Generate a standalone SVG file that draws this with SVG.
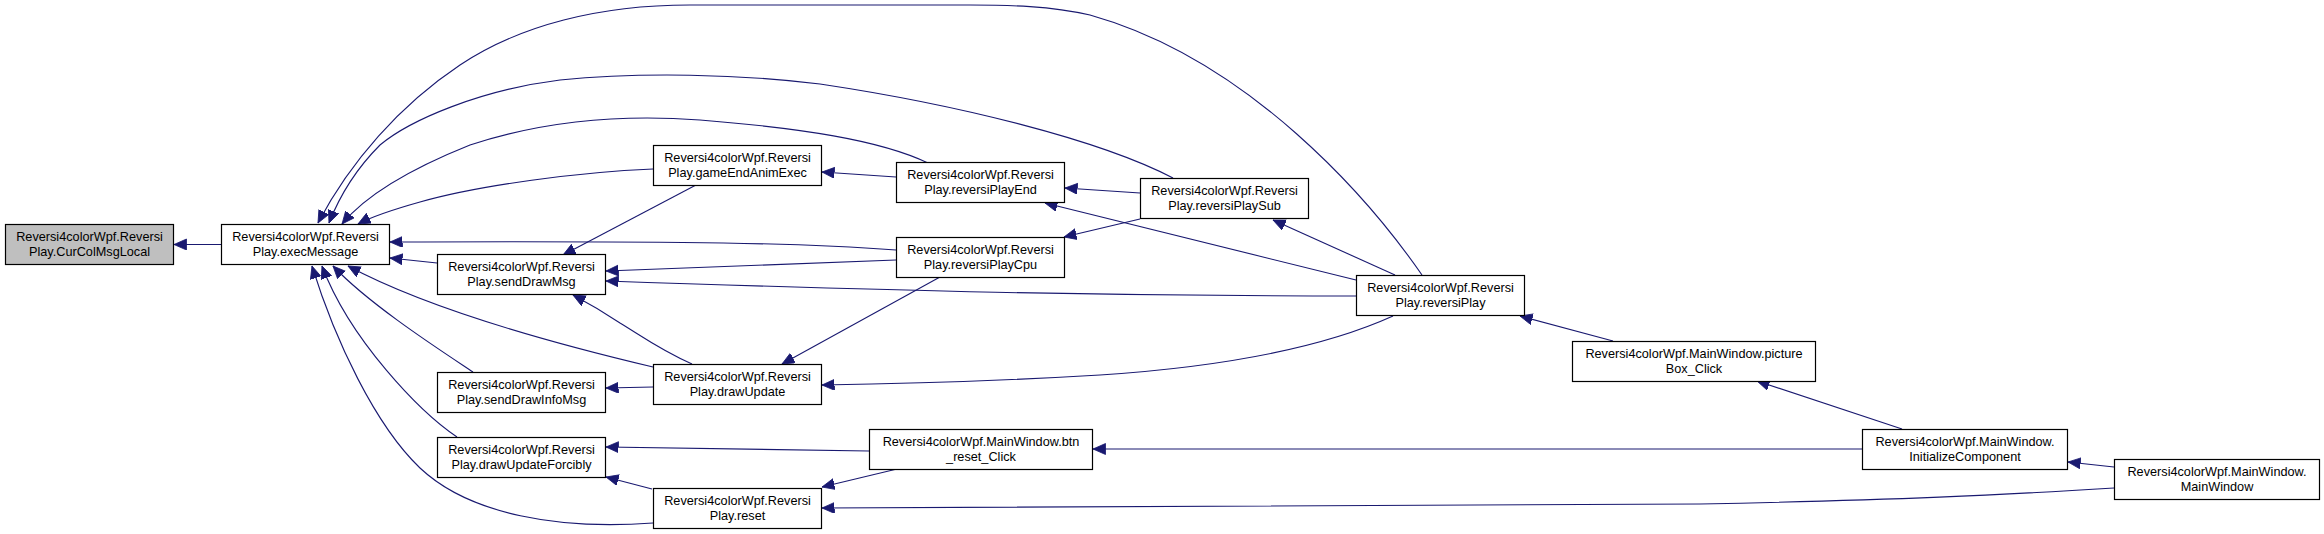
<svg xmlns="http://www.w3.org/2000/svg" width="2324" height="534" viewBox="0 0 2324 534">
<style>
.n rect{fill:#fff;stroke:#000;stroke-width:1.2}
.n text{font-family:"Liberation Sans",Arial,sans-serif;font-size:12.7px;fill:#000;text-anchor:middle}
#n0 rect{fill:#bfbfbf}
.e path{fill:none;stroke:#191970;stroke-width:1.1;marker-end:url(#ah)}
</style>
<defs>
<marker id="ah" markerUnits="userSpaceOnUse" markerWidth="14" markerHeight="12" viewBox="0 0 14 12" refX="12.5" refY="5.5" orient="auto">
<path d="M0,0 L12.5,5.5 L0,11 z" fill="#191970" stroke="#191970" stroke-width="0.8"/>
</marker>
</defs>
<rect width="2324" height="534" fill="#fff"/>
<g id="edges" class="e">
<path d="M221,244.5 L174,244.5"/>
<path d="M1422,275 C1370,200 1250,60 1090,15 C1050,6 1010,5 970,5 L690,5 C600,5 520,25 460,65 C400,105 350,162 318,223"/>
<path d="M1173,178 C1100,140 960,105 820,84 C740,74 640,72 560,80 C480,90 410,120 380,145 C360,165 342,190 329,223"/>
<path d="M928,163 C880,140 800,128 700,120 C620,114 540,122 470,145 C420,165 370,190 342,224"/>
<path d="M653,169 C580,172 480,185 420,202 C395,209 375,215 358,224"/>
<path d="M653,523 C560,530 470,515 420,468 C375,425 335,340 312,266"/>
<path d="M457,437 C420,412 350,340 322,266"/>
<path d="M473,372 C440,350 370,305 333,266"/>
<path d="M653,367 C560,345 430,310 348,266"/>
<path d="M896,250 C800,243 700,241 390,242"/>
<path d="M437,263 L390,258"/>
<path d="M896,260 L606,271"/>
<path d="M1356,296 C1100,296 900,291 606,281"/>
<path d="M696,185 L563,255"/>
<path d="M692,364 C660,350 640,335 620,323 C605,313 590,304 573,295"/>
<path d="M653,387 L606,388"/>
<path d="M896,177 L822,172"/>
<path d="M940,277 L782,364"/>
<path d="M1393,316 C1340,340 1250,365 1100,375 C1000,381 900,384 822,385"/>
<path d="M869,451 L606,447"/>
<path d="M652,489 L606,477"/>
<path d="M897,469 L822,487"/>
<path d="M2114,488 C2000,495 1900,500 1700,504 L822,508"/>
<path d="M1140,193 L1065,188"/>
<path d="M1356,280 L1045,203"/>
<path d="M1140,219 L1064,237"/>
<path d="M1395,275 L1273,220"/>
<path d="M1613,341 L1520,316"/>
<path d="M1902,429 L1757,381"/>
<path d="M1862,449 L1093,449"/>
<path d="M2114,467 L2068,462"/>
</g>
<g id="n0" class="n"><rect x="5.5" y="224.5" width="168" height="40"/><text x="89.5" y="240.5">Reversi4colorWpf.Reversi</text><text x="89.5" y="255.5">Play.CurColMsgLocal</text></g>
<g id="n1" class="n"><rect x="221.5" y="224.5" width="168" height="40"/><text x="305.5" y="240.5">Reversi4colorWpf.Reversi</text><text x="305.5" y="255.5">Play.execMessage</text></g>
<g id="n2" class="n"><rect x="653.5" y="145.5" width="168" height="40"/><text x="737.5" y="161.5">Reversi4colorWpf.Reversi</text><text x="737.5" y="176.5">Play.gameEndAnimExec</text></g>
<g id="n3" class="n"><rect x="437.5" y="254.5" width="168" height="40"/><text x="521.5" y="270.5">Reversi4colorWpf.Reversi</text><text x="521.5" y="285.5">Play.sendDrawMsg</text></g>
<g id="n4" class="n"><rect x="653.5" y="364.5" width="168" height="40"/><text x="737.5" y="380.5">Reversi4colorWpf.Reversi</text><text x="737.5" y="395.5">Play.drawUpdate</text></g>
<g id="n5" class="n"><rect x="437.5" y="372.5" width="168" height="40"/><text x="521.5" y="388.5">Reversi4colorWpf.Reversi</text><text x="521.5" y="403.5">Play.sendDrawInfoMsg</text></g>
<g id="n6" class="n"><rect x="437.5" y="437.5" width="168" height="40"/><text x="521.5" y="453.5">Reversi4colorWpf.Reversi</text><text x="521.5" y="468.5">Play.drawUpdateForcibly</text></g>
<g id="n7" class="n"><rect x="653.5" y="488.5" width="168" height="40"/><text x="737.5" y="504.5">Reversi4colorWpf.Reversi</text><text x="737.5" y="519.5">Play.reset</text></g>
<g id="n8" class="n"><rect x="896.5" y="162.5" width="168" height="40"/><text x="980.5" y="178.5">Reversi4colorWpf.Reversi</text><text x="980.5" y="193.5">Play.reversiPlayEnd</text></g>
<g id="n9" class="n"><rect x="896.5" y="237.5" width="168" height="40"/><text x="980.5" y="253.5">Reversi4colorWpf.Reversi</text><text x="980.5" y="268.5">Play.reversiPlayCpu</text></g>
<g id="n10" class="n"><rect x="1140.5" y="178.5" width="168" height="40"/><text x="1224.5" y="194.5">Reversi4colorWpf.Reversi</text><text x="1224.5" y="209.5">Play.reversiPlaySub</text></g>
<g id="n11" class="n"><rect x="1356.5" y="275.5" width="168" height="40"/><text x="1440.5" y="291.5">Reversi4colorWpf.Reversi</text><text x="1440.5" y="306.5">Play.reversiPlay</text></g>
<g id="n12" class="n"><rect x="869.5" y="429.5" width="223" height="40"/><text x="981" y="445.5">Reversi4colorWpf.MainWindow.btn</text><text x="981" y="460.5">_reset_Click</text></g>
<g id="n13" class="n"><rect x="1572.5" y="341.5" width="243" height="40"/><text x="1694" y="357.5">Reversi4colorWpf.MainWindow.picture</text><text x="1694" y="372.5">Box_Click</text></g>
<g id="n14" class="n"><rect x="1862.5" y="429.5" width="205" height="40"/><text x="1965" y="445.5">Reversi4colorWpf.MainWindow.</text><text x="1965" y="460.5">InitializeComponent</text></g>
<g id="n15" class="n"><rect x="2114.5" y="459.5" width="205" height="40"/><text x="2217" y="475.5">Reversi4colorWpf.MainWindow.</text><text x="2217" y="490.5">MainWindow</text></g>
</svg>
